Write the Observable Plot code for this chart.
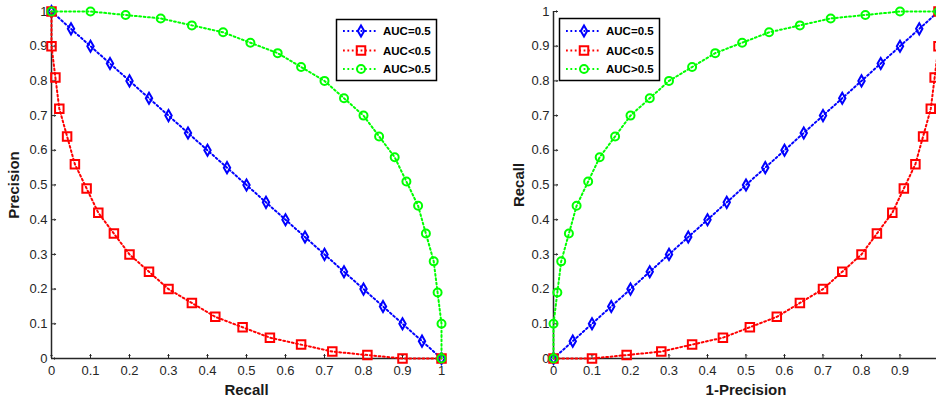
<!DOCTYPE html>
<html><head><meta charset="utf-8">
<script src="https://cdn.jsdelivr.net/npm/d3@7"></script>
<script src="https://cdn.jsdelivr.net/npm/@observablehq/plot@0.6"></script>
<style>
html,body{margin:0;padding:0;background:#fff;overflow:hidden;}
#wrap{position:relative;width:936px;height:403px;overflow:hidden;background:#fff;}
#wrap svg{position:absolute;top:0;}
</style></head><body><div id="wrap"></div>
<script>
// ---- data ----
const seriesNames = ["AUC=0.5", "AUC<0.5", "AUC>0.5"];
const seriesColors = ["#0000ff", "#ff0000", "#00ff00"];
const seriesSymbols = ["diamond", "square", "circle"];
const tickValues = [0, 0.1, 0.2, 0.3, 0.4, 0.5, 0.6, 0.7, 0.8, 0.9, 1];
// right panel x tick labels visible in the picture (the "1" falls outside the frame)
const rightXTickLabels = [0, 0.1, 0.2, 0.3, 0.4, 0.5, 0.6, 0.7, 0.8, 0.9];

// Left panel: Precision vs Recall
const recallEq    = [0,0.05,0.10,0.15,0.20,0.25,0.30,0.35,0.40,0.45,0.50,0.55,0.60,0.65,0.70,0.75,0.80,0.85,0.90,0.95,1];
const precisionEq = [1,0.95,0.90,0.85,0.80,0.75,0.70,0.65,0.60,0.55,0.50,0.45,0.40,0.35,0.30,0.25,0.20,0.15,0.10,0.05,0];
const recallLow    = [0,0.00,0.01,0.02,0.04,0.06,0.09,0.12,0.16,0.20,0.25,0.30,0.36,0.42,0.49,0.56,0.64,0.72,0.81,0.90,1];
const precisionLow = [1,0.90,0.81,0.72,0.64,0.56,0.49,0.42,0.36,0.30,0.25,0.20,0.16,0.12,0.09,0.06,0.04,0.02,0.01,0.00,0];
const recallHigh    = [0,0.10,0.19,0.28,0.36,0.44,0.51,0.58,0.64,0.70,0.75,0.80,0.84,0.88,0.91,0.94,0.96,0.98,0.99,1.00,1];
const precisionHigh = [1,1.00,0.99,0.98,0.96,0.94,0.91,0.88,0.84,0.80,0.75,0.70,0.64,0.58,0.51,0.44,0.36,0.28,0.19,0.10,0];

// Right panel: Recall vs 1-Precision
const fprEq = [0,0.05,0.10,0.15,0.20,0.25,0.30,0.35,0.40,0.45,0.50,0.55,0.60,0.65,0.70,0.75,0.80,0.85,0.90,0.95,1];
const tprEq = [0,0.05,0.10,0.15,0.20,0.25,0.30,0.35,0.40,0.45,0.50,0.55,0.60,0.65,0.70,0.75,0.80,0.85,0.90,0.95,1];
const fprLow = [0,0.10,0.19,0.28,0.36,0.44,0.51,0.58,0.64,0.70,0.75,0.80,0.84,0.88,0.91,0.94,0.96,0.98,0.99,1.00,1];
const tprLow = [0,0.00,0.01,0.02,0.04,0.06,0.09,0.12,0.16,0.20,0.25,0.30,0.36,0.42,0.49,0.56,0.64,0.72,0.81,0.90,1];
const fprHigh = [0,0.00,0.01,0.02,0.04,0.06,0.09,0.12,0.16,0.20,0.25,0.30,0.36,0.42,0.49,0.56,0.64,0.72,0.81,0.90,1];
const tprHigh = [0,0.10,0.19,0.28,0.36,0.44,0.51,0.58,0.64,0.70,0.75,0.80,0.84,0.88,0.91,0.94,0.96,0.98,0.99,1.00,1];

// ---- helpers ----
const FONT = "'Liberation Sans', Arial, Helvetica, sans-serif";
const AXIS = "#262626";
const fmt = d3.format("~g");
const symR = {diamond: 3.35, square: 4.8, circle: 4};
const rows = (xs, ys) => xs.map((x, i) => ({x, y: ys[i]}));

function panel(series, xLabel, yLabel, width, marginLeft, marginRight, yLabelOffset, xLabelTicks) {
  const marks = [
    Plot.ruleX([0], {stroke: AXIS, strokeWidth: 1.5}),
    Plot.ruleY([0], {stroke: AXIS, strokeWidth: 1.5}),
    // inward tick marks (MATLAB style)
    Plot.vector(tickValues, {x: d => d, frameAnchor: "bottom", length: 4, rotate: 0, anchor: "start", stroke: AXIS, strokeWidth: 1}),
    Plot.vector(tickValues, {y: d => d, frameAnchor: "left", length: 4, rotate: 90, anchor: "start", stroke: AXIS, strokeWidth: 1}),
    Plot.axisX(xLabelTicks, {tickSize: 0, tickPadding: 7, tickFormat: fmt, fill: AXIS,
      fontSize: 13, label: xLabel, labelArrow: "none", labelAnchor: "center", labelOffset: 36}),
    Plot.axisY(tickValues, {tickSize: 0, tickPadding: 4, tickFormat: fmt, fill: AXIS,
      fontSize: 13, label: yLabel, labelArrow: "none", labelAnchor: "center", labelOffset: yLabelOffset})
  ];
  series.forEach((d, i) => {
    marks.push(Plot.line(d, {x: "x", y: "y", stroke: seriesColors[i], strokeWidth: 2, strokeDasharray: "1.8,2.6"}));
    marks.push(Plot.dot(d, {x: "x", y: "y", symbol: seriesSymbols[i], r: symR[seriesSymbols[i]],
      stroke: seriesColors[i], strokeWidth: 2, fill: "none"}));
  });
  const svg = Plot.plot({
    width, height: 403, marginTop: 11, marginBottom: 45, marginLeft, marginRight,
    x: {domain: [0, 1]}, y: {domain: [0, 1]},
    style: {fontFamily: FONT, fontSize: "13px", color: AXIS, background: "transparent", overflow: "visible"},
    marks
  });
  svg.querySelectorAll('[aria-label="x-axis label"] text, [aria-label="y-axis label"] text, [aria-label="x-axis label"], [aria-label="y-axis label"]').forEach(el => {
    el.setAttribute("font-weight", "bold");
    el.setAttribute("font-size", "15");
    el.setAttribute("fill", "#1a1a1a");
  });
  svg.querySelectorAll('[aria-label$="axis label"] text').forEach(el => {
    el.textContent = el.textContent.replace(/\s*[→↑←↓]\s*/g, "");
  });
  return svg;
}

function legend(svg, bx, by, bw, bh, lx1, lx2, mx, tx, rowYs) {
  svg.append("rect").attr("x", bx).attr("y", by).attr("width", bw).attr("height", bh)
    .attr("fill", "#fff").attr("stroke", "#000").attr("stroke-width", 1.5);
  seriesNames.forEach((name, i) => {
    const y = rowYs[i];
    svg.append("line").attr("x1", lx1).attr("x2", lx2).attr("y1", y).attr("y2", y)
      .attr("stroke", seriesColors[i]).attr("stroke-width", 2).attr("stroke-dasharray", "1.8,2.6");
    const type = {diamond: d3.symbolDiamond, square: d3.symbolSquare, circle: d3.symbolCircle}[seriesSymbols[i]];
    const r = symR[seriesSymbols[i]];
    svg.append("path").attr("d", d3.symbol(type, Math.PI * r * r)())
      .attr("transform", `translate(${mx},${y})`).attr("fill", "none")
      .attr("stroke", seriesColors[i]).attr("stroke-width", 2);
    svg.append("text").attr("x", tx).attr("y", y).attr("dy", "0.36em")
      .attr("font-family", FONT).attr("font-weight", "bold").attr("font-size", 11.5)
      .attr("fill", "#000").text(name);
  });
}

const wrap = document.getElementById("wrap");

const left = panel([rows(recallEq, precisionEq), rows(recallLow, precisionLow), rows(recallHigh, precisionHigh)],
  "Recall", "Precision", 490, 51, 49, 43, tickValues);
left.style.left = "0px";
wrap.appendChild(left);

const right = panel([rows(fprEq, tprEq), rows(fprLow, tprLow), rows(fprHigh, tprHigh)],
  "1-Precision", "Recall", 448, 63, 0, 40, rightXTickLabels);
right.style.left = "490px";
wrap.appendChild(right);

const leg = d3.create("svg").attr("width", 936).attr("height", 403).style("left", "0px").style("pointer-events", "none");
legend(leg, 336.5, 19.5, 100, 61, 343, 377, 361, 383, [31, 50.5, 69]);
legend(leg, 559.5, 18.5, 100, 62, 566, 600, 584, 606, [31, 50.5, 69]);
wrap.appendChild(leg.node());
</script>
</body></html>
